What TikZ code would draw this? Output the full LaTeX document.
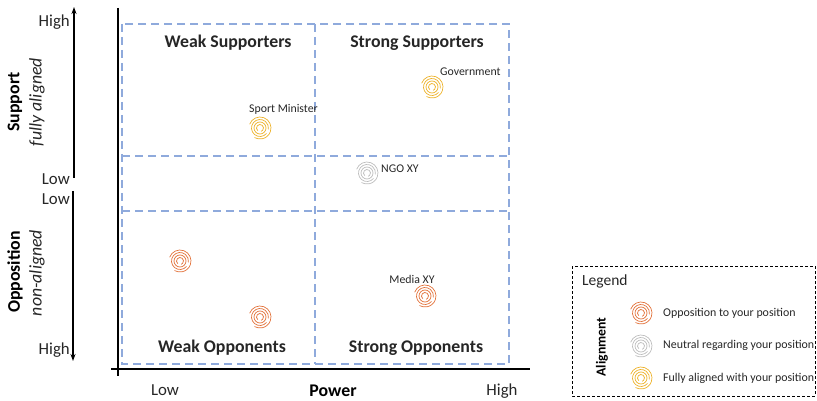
\documentclass[tikz,border=0pt]{standalone}
\usepackage{fontspec}
\setmainfont{Carlito}
\usetikzlibrary{arrows.meta}
\definecolor{gridblue}{HTML}{8FAADC}
\definecolor{oppo}{HTML}{E2723A}
\definecolor{neut}{HTML}{BDBDBD}
\definecolor{alig}{HTML}{EDB22A}
\definecolor{txt}{HTML}{262626}
\tikzset{
  quad/.style={font=\fontsize{17.8}{20}\selectfont\bfseries, text=txt},
  axlbl/.style={font=\fontsize{16.8}{20}\selectfont, text=txt},
  axttl/.style={font=\fontsize{17.8}{20}\selectfont\bfseries, text=black},
  axsub/.style={font=\fontsize{17.8}{20}\selectfont\itshape, text=txt},
  small/.style={font=\fontsize{11.8}{14}\selectfont, text=txt},
  legtxt/.style={font=\fontsize{11.9}{14}\selectfont, text=txt},
  gridline/.style={draw=gridblue, line width=1.8pt, dash pattern=on 8pt off 5pt},
  axisline/.style={draw=black, line width=2pt},
  axarrow/.style={draw=black, line width=1.5pt, -{Stealth[length=7pt,width=5pt]}},
  pics/spiral/.style={code={
    \draw[line width=0.7pt] (200:11) arc (200:480:11);
    \draw[line width=0.7pt] (40:8.5) arc (40:370:8.5);
    \draw[line width=0.7pt] (0,0) circle (6);
    \draw[line width=0.7pt] (130:3.5) arc (130:430:3.5);
  }}
}
\begin{document}
\begin{tikzpicture}[x=1pt,y=-1pt]
\useasboundingbox (0,0) rectangle (817,401);
% dashed grid
\draw[gridline] (122,24) rectangle (509,364);
\draw[gridline] (122,156) -- (509,156);
\draw[gridline] (122,211) -- (509,211);
\draw[gridline] (315,24) -- (315,364);
% axes
\coordinate (vtop) at (118,8);
\coordinate (vbot) at (118,376);
\coordinate (hleft) at (111,369);
\coordinate (hright) at (530,369);
\draw[axisline] (vtop) -- (vbot);
\draw[axisline] (hleft) -- (hright);
% left arrows
\coordinate (upS) at (74,178);
\coordinate (upE) at (74,7);
\coordinate (dnS) at (73,191);
\coordinate (dnE) at (73,361);
\draw[axarrow] (upS) -- (upE);
\draw[axarrow] (dnS) -- (dnE);
\node[axlbl, anchor=east, inner sep=0] (hi1) at (70,22) {High};
\node[axlbl, anchor=east, inner sep=0] (lo1) at (70,179) {Low};
\node[axlbl, anchor=east, inner sep=0] (lo2) at (70,199) {Low};
\node[axlbl, anchor=east, inner sep=0] (hi2) at (70,350) {High};
\node[axttl, rotate=90, inner sep=0] (supp) at (15,102) {Support};
\node[axsub, rotate=90, inner sep=0] (fully) at (37,102) {fully aligned};
\node[axttl, rotate=90, inner sep=0] (oppos) at (15,272) {Opposition};
\node[axsub, rotate=90, inner sep=0] (nonal) at (37,273) {non-aligned};
% quadrant labels
\node[quad, inner sep=0] (ws) at (228,43) {Weak Supporters};
\node[quad, inner sep=0] (ss) at (417,43) {Strong Supporters};
\node[quad, inner sep=0] (wo) at (222,348) {Weak Opponents};
\node[quad, inner sep=0] (so) at (416,348) {Strong Opponents};
% bottom axis labels
\node[axlbl, inner sep=0] (blow) at (165,390) {Low};
\node[axttl, inner sep=0] (power) at (333,391) {Power};
\node[axlbl, inner sep=0] (bhigh) at (502,391) {High};
% stakeholders
\pic[alig] at (260,128) {spiral};
\node[small, anchor=west, inner sep=0] (sport) at (249,109) {Sport Minister};
\pic[alig] at (432,87) {spiral};
\node[small, anchor=west, inner sep=0] (gov) at (440,72) {Government};
\pic[neut] at (367,173) {spiral};
\node[small, anchor=west, inner sep=0] (ngo) at (381,169) {NGO XY};
\pic[oppo] at (425,296) {spiral};
\node[small, inner sep=0] (media) at (412,279) {Media XY};
\pic[oppo] at (180,261) {spiral};
\pic[oppo] at (260,317) {spiral};
% legend
\draw[black, line width=0.8pt, dash pattern=on 3pt off 2pt] (572,266) rectangle (815,396);
\node[font=\fontsize{15.5}{18}\selectfont, text=txt, anchor=west, inner sep=0] (leg) at (582,281) {Legend};
\node[font=\fontsize{13.7}{16}\selectfont\bfseries, text=black, rotate=90, inner sep=0] (align) at (602,347) {Alignment};
\pic[oppo] at (641,313) {spiral};
\node[legtxt, anchor=west, inner sep=0] (l1) at (663,313) {Opposition to your position};
\pic[neut] at (641,346) {spiral};
\node[legtxt, anchor=west, inner sep=0] (l2) at (663,345) {Neutral regarding your position};
\pic[alig] at (641,378) {spiral};
\node[legtxt, anchor=west, inner sep=0] (l3) at (663,378) {Fully aligned with your position};
\end{tikzpicture}
\end{document}
